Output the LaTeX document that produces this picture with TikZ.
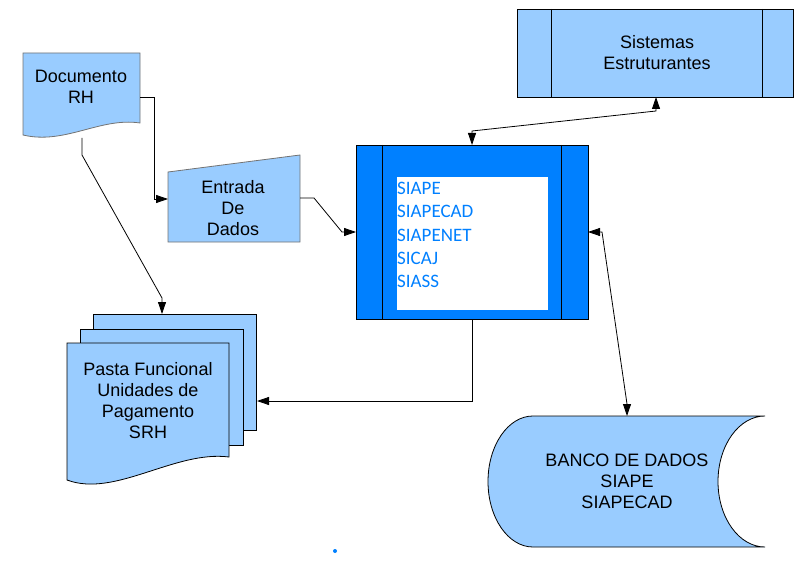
\documentclass[tikz,border=0pt]{standalone}
\usepackage{fontspec}
\setmainfont{Liberation Sans}
\newfontfamily\calfont{Carlito}
\usetikzlibrary{arrows.meta}
\definecolor{lblue}{RGB}{153,204,255}
\definecolor{dblue}{RGB}{0,128,255}
\tikzset{
  shapebox/.style={fill=lblue, draw=black, line width=0.8pt},
  greybox/.style={fill=lblue, draw=black!55, line width=0.8pt},
  lbl/.style={font=\fontsize{18}{21}\selectfont, align=center, inner sep=0pt},
  sislbl/.style={font=\calfont\fontsize{19}{23}\selectfont, text=dblue, inner sep=0pt, anchor=base west},
  conn/.style={draw=black, line width=0.8pt},
  tip/.tip={Triangle[length=12pt,width=8pt]}
}
\begin{document}
\begin{tikzpicture}[x=1pt,y=-1pt]
\useasboundingbox (0,0) rectangle (802,561);

% Documento RH
\path[greybox] (23,53) -- (140,53) -- (140,123) .. controls (100,117) and (65,145) .. (23,135) -- cycle;
\node[lbl] (doc) at (81,87) {Documento\\RH};
\coordinate (docE) at (140,97);
\coordinate (docS) at (82,138);

% Entrada De Dados
\path[greybox] (168,172) -- (300,155) -- (300,242) -- (168,242) -- cycle;
\node[lbl] (ent) at (233,208) {Entrada\\De\\Dados};
\coordinate (entW) at (168,199);
\coordinate (entE) at (300,198);

% Sistemas Estruturantes
\path[shapebox] (517,9) rectangle (793,97);
\draw[line width=0.8pt] (551,9) -- (551,97) (762,9) -- (762,97);
\node[lbl] (sis) at (657,53) {Sistemas\\Estruturantes};
\coordinate (sisS) at (656,97);

% SIAPE block
\path[fill=dblue, draw=black, line width=0.8pt] (356,145) rectangle (588,319);
\draw[line width=0.8pt] (382,145) -- (382,319) (561,145) -- (561,319);
\fill[white] (397,177) rectangle (548,310);
\node[sislbl] (s1) at (397,195) {SIAPE};
\node[sislbl] (s2) at (397,218) {SIAPECAD};
\node[sislbl] (s3) at (397,241) {SIAPENET};
\node[sislbl] (s4) at (397,264) {SICAJ};
\node[sislbl] (s5) at (397,287) {SIASS};
\coordinate (siapeN) at (472,145);
\coordinate (siapeS) at (472,319);
\coordinate (siapeW) at (356,232);
\coordinate (siapeE) at (588,232);

% Pasta Funcional (multi-document)
\path[shapebox] (93,314) rectangle (256,430);
\path[shapebox] (80,329) rectangle (243,445);
\path[shapebox] (67,343) -- (229,343) -- (229,457) .. controls (175,450) and (115,498) .. (67,480) -- cycle;
\node[lbl] (pasta) at (148,401) {Pasta Funcional\\Unidades de\\Pagamento\\SRH};
\coordinate (pastaN) at (162,314);
\coordinate (pastaE) at (257,401);

% Banco de Dados
\path[shapebox] (533,416) -- (765,416)
  .. controls (739,416) and (718,445.3) .. (718,481.5)
  .. controls (718,517.7) and (739,547) .. (765,547)
  -- (533,547)
  .. controls (508.1,547) and (488,517.7) .. (488,481.5)
  .. controls (488,445.3) and (508.1,416) .. (533,416) -- cycle;
\node[lbl] (banco) at (627,481) {BANCO DE DADOS\\SIAPE\\SIAPECAD};
\coordinate (bancoN) at (627,416);

% connectors
\draw[conn, -tip] (docE) -- (154,97) |- (entW);
\draw[conn, -tip] (docS) -- (82,155) -- (162,298) -- (pastaN);
\draw[conn, -tip] (entE) -- (314,198) -- (342,232) -- (siapeW);
\draw[conn, tip-tip] (siapeN) -- (472,131) -- (656,111) -- (sisS);
\draw[conn, tip-tip] (siapeE) -- (602,232) -- (627,404) -- (bancoN);
\draw[conn, -tip] (siapeS) |- (pastaE);

% small dot
\fill[dblue] (335,551) circle (2);
\end{tikzpicture}
\end{document}
